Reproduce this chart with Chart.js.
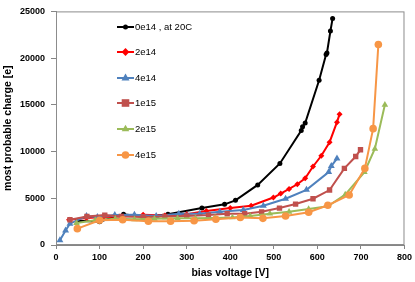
<!DOCTYPE html>
<html lang="en">
<head>
<meta charset="UTF-8">
<title>most probable charge vs bias voltage</title>
<script src="https://cdn.jsdelivr.net/npm/chart.js"></script>
<style>
    html, body { margin: 0; padding: 0; background: #fff; }
    #wrap { width: 415px; height: 282px; position: relative; }
</style>
</head>
<body>
<div id="wrap"><canvas id="chart" width="415" height="282"></canvas></div>
<script>
// series names
const seriesNames = ['0e14 , at 20C', '2e14', '4e14', '1e15', '2e15', '4e15'];

// bias voltage [V] and most probable charge [e] for each fluence
const v0e14 = [50, 100, 155, 205, 257, 335, 387, 412, 463, 514, 563, 566, 572, 604, 620, 622, 630, 635];
const q0e14 = [2600, 2500, 3300, 3000, 3300, 3950, 4350, 4780, 6430, 8730, 12250, 12650, 13050, 17630, 20400, 20560, 22900, 24250];

const v2e14 = [30, 70, 110, 150, 200, 250, 300, 345, 400, 448, 499, 516, 535, 554, 572, 590, 609, 628, 645, 651];
const q2e14 = [2700, 2900, 3000, 3050, 3250, 3150, 3300, 3650, 3950, 4200, 5080, 5500, 6000, 6500, 7150, 8400, 9550, 11000, 13150, 14000];

const v4e14 = [9, 22, 32, 70, 95, 135, 180, 230, 282, 330, 376, 430, 476, 527, 575, 626, 632, 645];
const q4e14 = [520, 1550, 2280, 3100, 3000, 3200, 3250, 3100, 3350, 3350, 3550, 3750, 4200, 4950, 5900, 7800, 8450, 9250];

const v1e15 = [32, 71, 112, 150, 200, 250, 300, 350, 393, 433, 472, 513, 550, 590, 628, 662, 688, 699];
const q1e15 = [2700, 3050, 3200, 3050, 3000, 3050, 3100, 3200, 3350, 3350, 3550, 3950, 4380, 4950, 5880, 8200, 9470, 10200];

const v2e15 = [47, 90, 136, 180, 226, 279, 320, 365, 405, 446, 491, 535, 580, 624, 664, 708, 732, 755];
const q2e15 = [2350, 2650, 2800, 2750, 2800, 2850, 2850, 2900, 2950, 3100, 3350, 3550, 3850, 4150, 5400, 7800, 10300, 15000];

const v4e15 = [49, 100, 153, 212, 263, 317, 367, 423, 475, 527, 580, 624, 673, 709, 728, 740];
const q4e15 = [1750, 2650, 2700, 2550, 2550, 2600, 2750, 2950, 2850, 3100, 3500, 4250, 5350, 8200, 12450, 21450];

const xTicks = [0, 100, 200, 300, 400, 500, 600, 700, 800];
const yTicks = [0, 5000, 10000, 15000, 20000, 25000];

const xs = [v0e14, v2e14, v4e14, v1e15, v2e15, v4e15];
const ys = [q0e14, q2e14, q4e14, q1e15, q2e15, q4e15];
const colors = ['#000000', '#ff0000', '#4f81bd', '#c0504d', '#9bbb59', '#f79646'];
const styles = ['circle', 'rectRot', 'triangle', 'rect', 'triangle', 'circle'];
const radii = [2.5, 3, 4, 3.8, 3.8, 3.8];

const datasets = seriesNames.map((name, i) => ({
    label: name,
    data: xs[i].map((x, j) => ({ x: x, y: ys[i][j] })),
    showLine: true,
    borderColor: colors[i],
    backgroundColor: colors[i],
    borderWidth: 2,
    pointStyle: styles[i],
    pointRadius: radii[i],
    pointBorderWidth: 0,
    tension: 0,
    order: seriesNames.length - i
}));

function drawMarker(ctx, style, r, x, y) {
    ctx.beginPath();
    if (style === 'circle') {
        ctx.arc(x, y, r, 0, Math.PI * 2);
    } else if (style === 'rect') {
        ctx.rect(x - r, y - r, r * 2, r * 2);
    } else if (style === 'rectRot') {
        ctx.moveTo(x, y - r * 1.3); ctx.lineTo(x + r * 1.3, y);
        ctx.lineTo(x, y + r * 1.3); ctx.lineTo(x - r * 1.3, y);
        ctx.closePath();
    } else if (style === 'triangle') {
        ctx.moveTo(x, y - r * 1.15); ctx.lineTo(x + r, y + r * 0.6);
        ctx.lineTo(x - r, y + r * 0.6); ctx.closePath();
    }
    ctx.fill();
}

// legend sits inside the plot area, drawn by hand
const legendPlugin = {
    id: 'insideLegend',
    afterDraw(chart) {
        const ctx = chart.ctx;
        const rows = [27, 52, 78, 103, 129, 155];
        ctx.save();
        ctx.font = '9.5px "Liberation Sans", Arial, sans-serif';
        ctx.textBaseline = 'middle';
        seriesNames.forEach((name, i) => {
            const y = rows[i];
            ctx.strokeStyle = colors[i];
            ctx.fillStyle = colors[i];
            ctx.lineWidth = 2;
            ctx.beginPath();
            ctx.moveTo(117, y); ctx.lineTo(134, y); ctx.stroke();
            drawMarker(ctx, styles[i], radii[i], 125.5, y);
            ctx.fillStyle = '#000';
            ctx.fillText(name, 135, y);
        });
        ctx.restore();
    },
    beforeDatasetsDraw(chart) {
        const a = chart.chartArea;
        const ctx = chart.ctx;
        ctx.save();
        ctx.strokeStyle = '#8c8c8c';
        ctx.lineWidth = 1;
        ctx.strokeRect(a.left + 0.5, a.top + 0.5, a.right - a.left - 1, a.bottom - a.top - 1);
        ctx.restore();
    }
};

const tickFont = { family: '"Liberation Sans", Arial, sans-serif', size: 9, weight: 'bold' };
const titleFont = { family: '"Liberation Sans", Arial, sans-serif', size: 10.5, weight: 'bold' };

new Chart(document.getElementById('chart'), {
    type: 'scatter',
    data: { datasets: datasets },
    options: {
        responsive: false,
        animation: false,
        layout: { padding: { left: 0, top: 4, right: 8, bottom: 0 } },
        plugins: { legend: { display: false }, tooltip: { enabled: false } },
        scales: {
            x: {
                type: 'linear',
                min: 0, max: 800,
                afterBuildTicks: s => { s.ticks = xTicks.map(v => ({ value: v })); },
                afterFit: s => { s.height = 37; },
                grid: { drawOnChartArea: false, drawTicks: true, tickLength: 4, color: '#868686' },
                border: { display: true, color: '#868686', width: 1 },
                ticks: { font: tickFont, color: '#000', padding: 3, maxRotation: 0, callback: v => String(v) },
                title: { display: true, text: 'bias voltage [V]', font: titleFont, color: '#000', padding: { top: 0, bottom: 3 } }
            },
            y: {
                type: 'linear',
                min: 0, max: 25000,
                afterBuildTicks: s => { s.ticks = yTicks.map(v => ({ value: v })); },
                afterFit: s => { s.width = 56; },
                grid: { drawOnChartArea: false, drawTicks: true, tickLength: 5, color: '#868686' },
                border: { display: true, color: '#868686', width: 1 },
                ticks: { font: tickFont, color: '#000', padding: 6, callback: v => String(v) },
                title: { display: true, text: 'most probable charge [e]', font: titleFont, color: '#000', padding: { top: 2, bottom: 0 } }
            }
        }
    },
    plugins: [legendPlugin]
});
</script>
</body>
</html>
